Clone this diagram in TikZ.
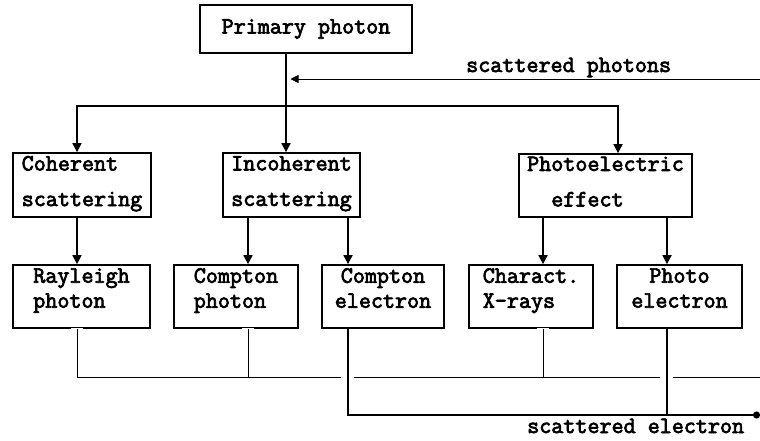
\documentclass[tikz,border=0pt]{standalone}
\usepackage{fontspec}
\setmonofont{Latin Modern Mono}[AutoFakeBold=3]
\usetikzlibrary{arrows.meta,calc}
\newcommand{\lo}[1]{\rule[-#1pt]{0pt}{0pt}}
\tikzset{
  box/.style={draw,line width=1.7pt,inner sep=0pt,align=left,
              font=\ttfamily\bfseries\fontsize{23.4}{25}\selectfont},
  boxw/.style={box,font=\ttfamily\bfseries\fontsize{23.4}{35.5}\selectfont},
  arr/.style={line width=1.7pt,-{Triangle[length=9pt,width=9pt]}},
  fb/.style={line width=0.7pt},
  lbl/.style={font=\ttfamily\bfseries\fontsize{23.4}{25}\selectfont,
              anchor=base west,inner sep=0pt},
}
\begin{document}
\begin{tikzpicture}[x=1pt,y=-1pt]
  \fill[white] (0,0) rectangle (760,440);
  \useasboundingbox (0,0) rectangle (760,440);
  % interactions
  \node[box,align=center,minimum width=212,minimum height=48] (prim) at (306,29) {Primary photon};
  \node[boxw,minimum width=138,minimum height=64] (coh) at (82,185) {Coherent\\scattering\lo{8}};
  \node[boxw,minimum width=137,minimum height=64] (inc) at (291.5,185) {Incoherent\\scattering\lo{8}};
  \node[boxw,minimum width=173,minimum height=63] (pho) at (605.5,185.5) {Photoelectric\\\phantom{xx}effect\lo{8}};
  % products
  \node[box,minimum width=137,minimum height=63] (ray) at (81.5,296.5) {Rayleigh\\photon\lo{17}};
  \node[box,minimum width=124,minimum height=63] (cph) at (236,296.5) {Compton\\photon\lo{17}};
  \node[box,align=center,minimum width=122,minimum height=63] (cel) at (383,296.5) {Compton\\electron\lo{17}};
  \node[box,minimum width=124,minimum height=63] (cha) at (531,296.5) {Charact.\\X-rays\lo{17}};
  \node[box,align=center,minimum width=125,minimum height=63] (pel) at (679.5,296.5) {Photo\\electron\lo{17}};
  % columns and rails
  \coordinate (c1) at (77,0);
  \coordinate (c2) at (286,0);
  \coordinate (c3) at (248,0);
  \coordinate (c4) at (348,0);
  \coordinate (c5) at (543,0);
  \coordinate (c6) at (667,0);
  \coordinate (c7) at (618,0);
  \coordinate (edge) at (760,0);
  \coordinate (bus) at (0,106);
  \coordinate (sp) at (0,79);
  \coordinate (rb) at (0,377);
  \coordinate (eb) at (0,415);
  % primary branches
  \draw[arr] (prim.south -| c2) -- (inc.north -| c2);
  \draw[arr] (bus -| c2) -| (coh.north -| c1);
  \draw[arr] (bus -| c2) -| (pho.north -| c7);
  \foreach \a/\b/\c in {coh/ray/c1,inc/cph/c3,inc/cel/c4,pho/cha/c5,pho/pel/c6}
    \draw[arr] (\a.south -| \c) -- (\b.north -| \c);
  % scattered photons back
  \draw[fb,-{Triangle[length=8pt,width=8pt]},shorten >=4.5pt] (sp -| edge) -- (sp -| c2);
  \node[lbl] (spl) at (466,72) {scattered photons};
  \foreach \n/\c in {ray/c1,cph/c3,cha/c5}{
    \draw[white,line width=2.5pt] ($(\n.south -| \c)+(-6,0)$) -- ($(\n.south -| \c)+(6,0)$);
    \draw[fb] (\n.south -| \c) -- (rb -| \c);
  }
  \draw[fb] (rb -| c1) -- ($(rb -| c4)+(-7,0)$);
  \draw[fb] ($(rb -| c4)+(6,0)$) -- ($(rb -| c6)+(-7,0)$);
  \draw[fb] ($(rb -| c6)+(6,0)$) -- (rb -| edge);
  % scattered electrons
  \draw[line width=1.7pt,-{Circle[length=7pt]}] (cel.south -| c4) |- (eb -| edge);
  \draw[line width=1.7pt] (pel.south -| c6) -- (eb -| c6);
  \node[lbl] (sel) at (527,433) {scattered electron};
\end{tikzpicture}
\end{document}
